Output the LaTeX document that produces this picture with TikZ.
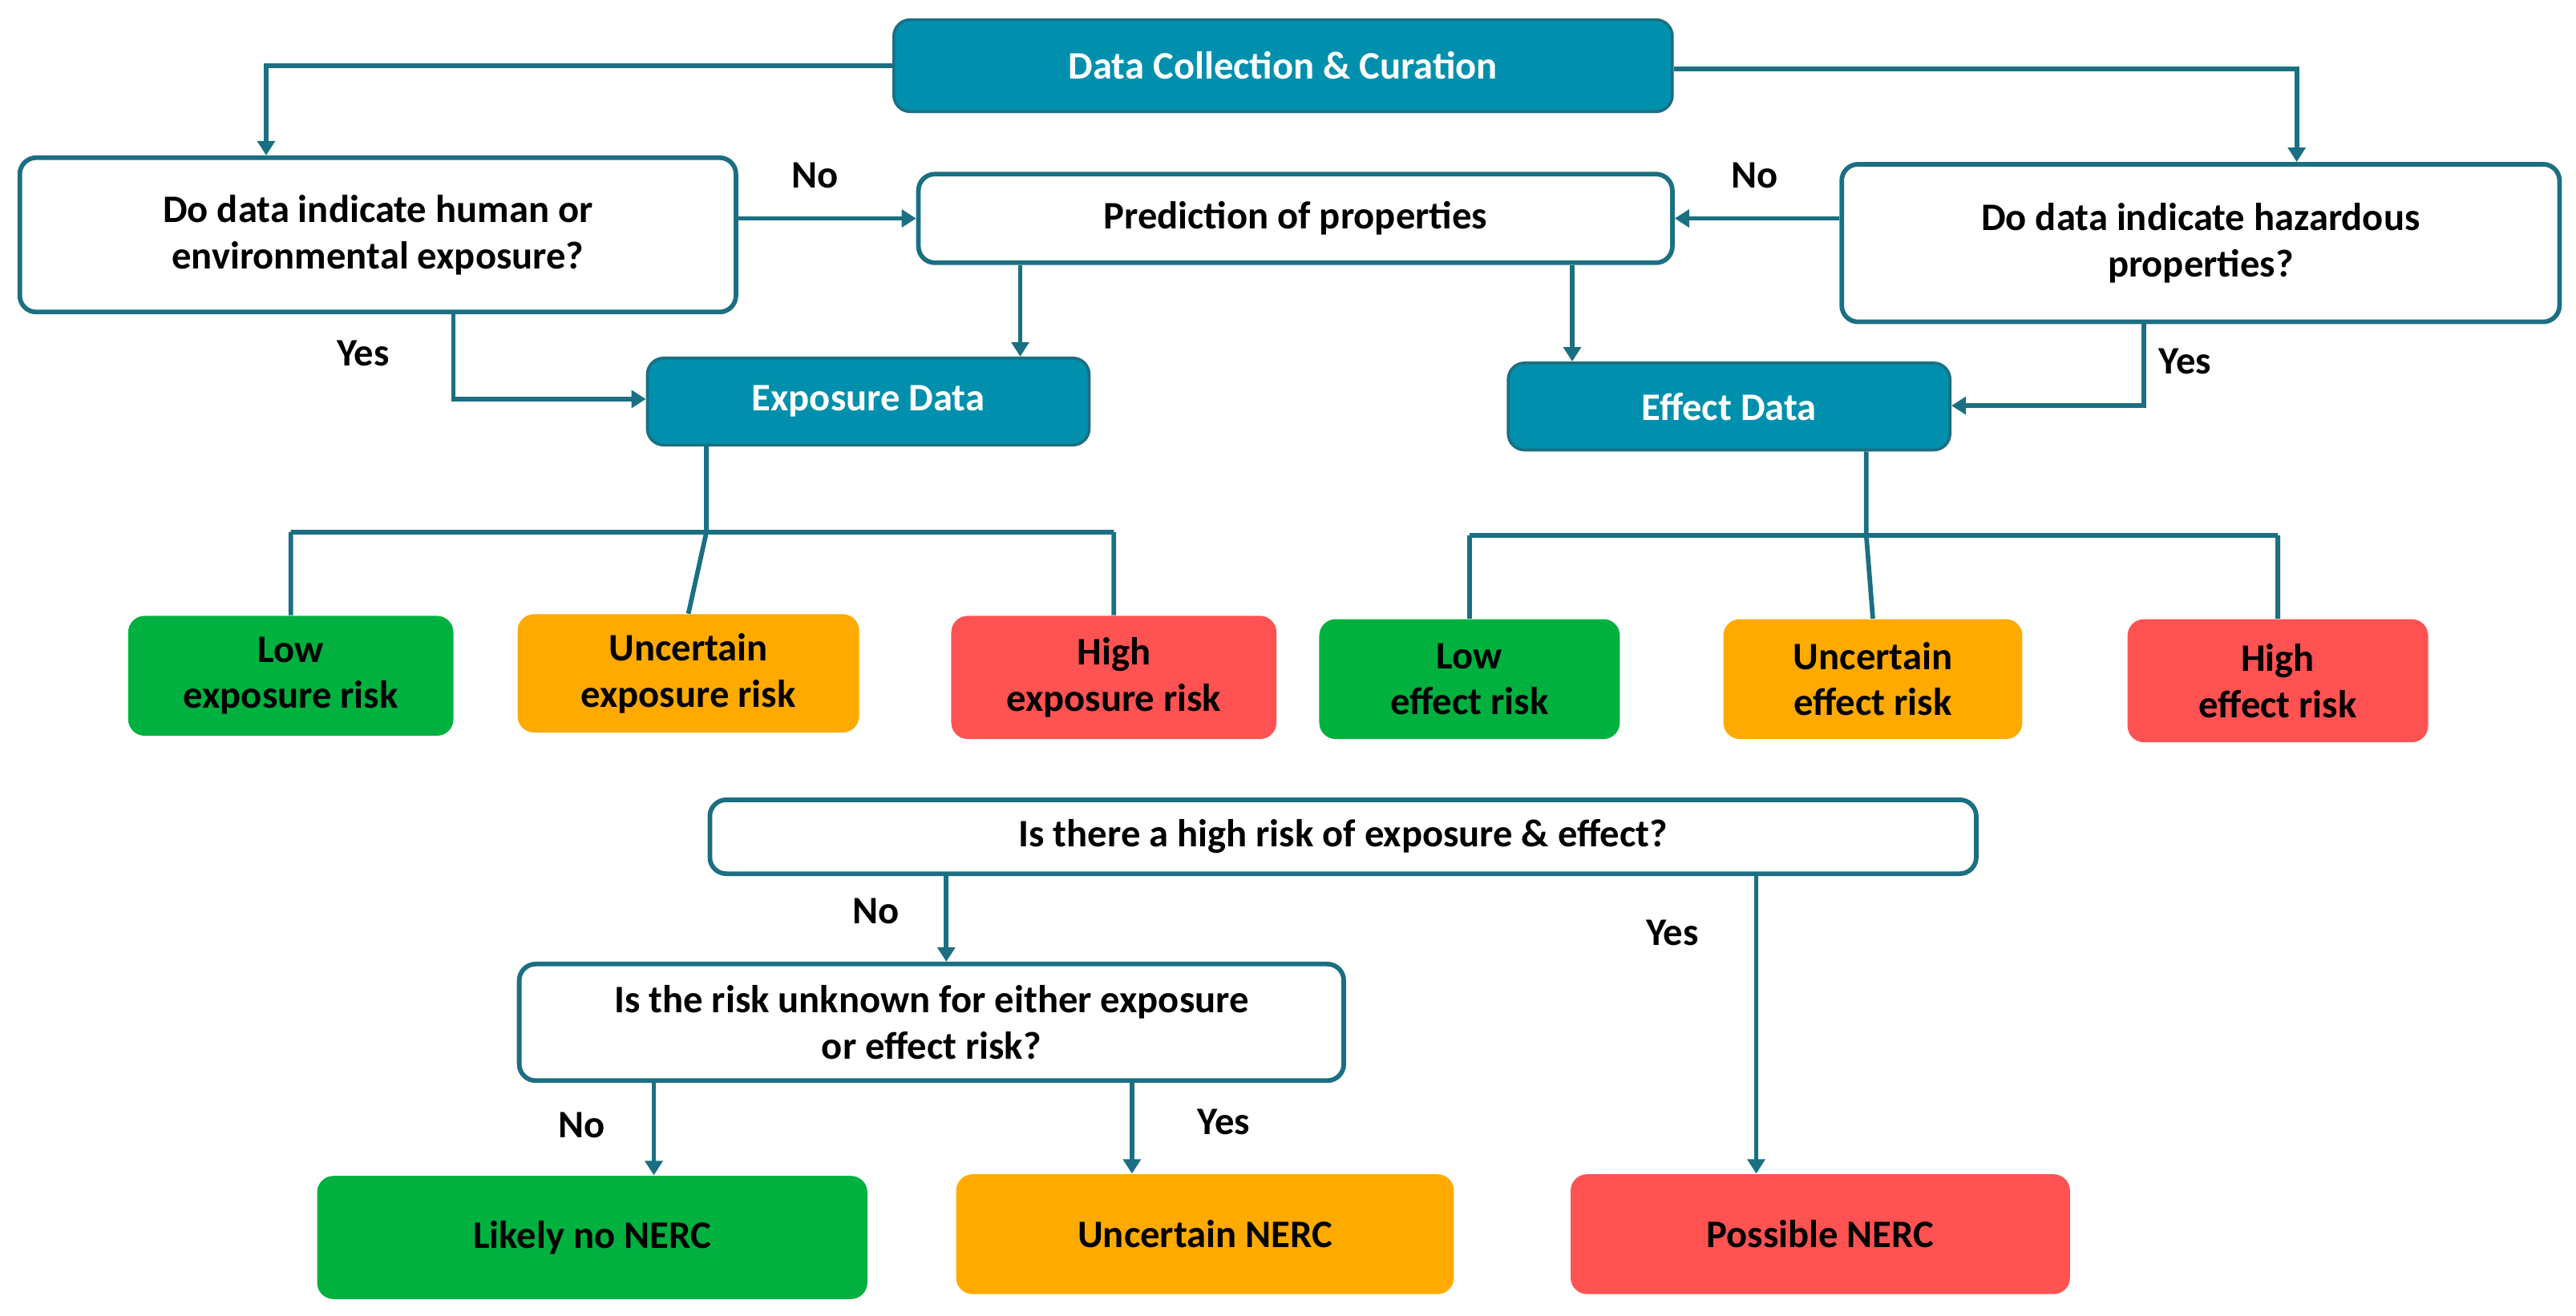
\documentclass[tikz,border=0pt]{standalone}
\usepackage{fontspec}
\setmainfont{Carlito}
\usetikzlibrary{arrows.meta}
\definecolor{teal1}{HTML}{0090AD}
\definecolor{line1}{HTML}{1B6F82}
\definecolor{gr}{HTML}{00B140}
\definecolor{og}{HTML}{FFAA00}
\definecolor{rd}{HTML}{FF5252}
\begin{document}
\begin{tikzpicture}[x=0.02cm,y=-0.02cm,
 font=\fontsize{13.5}{16}\selectfont\bfseries,
 box/.style={rounded corners=0.2cm,align=center,inner sep=2pt},
 hd/.style={box,fill=teal1,draw=line1,line width=1pt,text=white},
 qq/.style={box,fill=white,draw=line1,line width=1.6pt},
 res/.style={box,draw=none},
 arr/.style={draw=line1,line width=1.6pt,-{Triangle[length=5pt,width=6pt]}},
 ln/.style={draw=line1,line width=1.6pt},
 lab/.style={font=\fontsize{13.5}{16}\selectfont\bfseries}]
\useasboundingbox (0,0) rectangle (1568,801);
\node[hd,minimum width=9.48cm,minimum height=1.12cm] (dc) at (781,40) {Data Collection \& Curation};
\node[qq,minimum width=8.72cm,minimum height=1.88cm] (q1) at (230,143) {Do data indicate human or\\environmental exposure?};
\node[qq,minimum width=9.18cm,minimum height=1.08cm] (pr) at (788.5,133) {Prediction of properties};
\node[qq,minimum width=8.74cm,minimum height=1.92cm] (q2) at (1339.5,148) {Do data indicate hazardous\\properties?};
\node[hd,minimum width=5.38cm,minimum height=1.06cm] (ex) at (528.5,244.5) {Exposure Data};
\node[hd,minimum width=5.38cm,minimum height=1.06cm] (ef) at (1052.5,247.5) {Effect Data};
\node[res,fill=gr,minimum width=3.96cm,minimum height=1.46cm] (le) at (177,411.5) {Low\\exposure risk};
\node[res,fill=og,minimum width=4.16cm,minimum height=1.44cm] (ue) at (419,410) {Uncertain\\exposure risk};
\node[res,fill=rd,minimum width=3.96cm,minimum height=1.5cm] (he) at (678,412.5) {High\\exposure risk};
\node[res,fill=gr,minimum width=3.66cm,minimum height=1.46cm] (lf) at (894.5,413.5) {Low\\effect risk};
\node[res,fill=og,minimum width=3.64cm,minimum height=1.46cm] (uf) at (1140,413.5) {Uncertain\\effect risk};
\node[res,fill=rd,minimum width=3.66cm,minimum height=1.5cm] (hf) at (1386.5,414.5) {High\\effect risk};
\node[qq,minimum width=15.42cm,minimum height=0.9cm] (q3) at (817.5,509.5) {Is there a high risk of exposure \& effect?};
\node[qq,minimum width=10.04cm,minimum height=1.42cm] (q4) at (567,622.5) {Is the risk unknown for either exposure\\or effect risk?};
\node[res,fill=gr,minimum width=6.7cm,minimum height=1.5cm] (ln) at (360.5,753.5) {Likely no NERC};
\node[res,fill=og,minimum width=6.06cm,minimum height=1.46cm] (un) at (733.5,751.5) {Uncertain NERC};
\node[res,fill=rd,minimum width=6.08cm,minimum height=1.46cm] (pn) at (1108,751.5) {Possible NERC};
% helper coordinates
\coordinate (a1) at (162,40); \coordinate (a2) at (1398,42);
\coordinate (b1) at (276,243); \coordinate (b2) at (1305,247);
\coordinate (c1) at (621,0); \coordinate (c2) at (957,0);
\coordinate (d1) at (430,324); \coordinate (d2) at (1136,326);
\coordinate (e1) at (576,0); \coordinate (e2) at (1069,0);
\coordinate (f1) at (398,0); \coordinate (f2) at (689,0);
\draw[arr] (dc.west |- a1) -- (a1) -- (a1 |- q1.north);
\draw[arr] (dc.east |- a2) -- (a2) -- (a2 |- q2.north);
\draw[arr] (q1.east |- pr.west) -- (pr.west);
\draw[arr] (q2.west |- pr.east) -- (pr.east);
\draw[arr] (b1 |- q1.south) -- (b1) -- (ex.west |- b1);
\draw[arr] (b2 |- q2.south) -- (b2) -- (ef.east |- b2);
\draw[arr] (c1 |- pr.south) -- (c1 |- ex.north);
\draw[arr] (c2 |- pr.south) -- (c2 |- ef.north);
\draw[ln] (d1 |- ex.south) -- (d1) (le.north |- d1) -- (he.north |- d1)
 (le.north |- d1) -- (le.north) (d1) -- (ue.north) (he.north |- d1) -- (he.north);
\draw[ln] (d2 |- ef.south) -- (d2) (lf.north |- d2) -- (hf.north |- d2)
 (lf.north |- d2) -- (lf.north) (d2) -- (uf.north) (hf.north |- d2) -- (hf.north);
\draw[arr] (e1 |- q3.south) -- (e1 |- q4.north);
\draw[arr] (e2 |- q3.south) -- (e2 |- pn.north);
\draw[arr] (f1 |- q4.south) -- (f1 |- ln.north);
\draw[arr] (f2 |- q4.south) -- (f2 |- un.north);
\node[lab] (n1) at (496,107) {No};
\node[lab] (n2) at (1068,107) {No};
\node[lab] (y1) at (221,215) {Yes};
\node[lab] (y2) at (1330,220) {Yes};
\node[lab] (n3) at (533,555) {No};
\node[lab] (y3) at (1018,568) {Yes};
\node[lab] (n4) at (354,685) {No};
\node[lab] (y4) at (745,683) {Yes};
\end{tikzpicture}
\end{document}
